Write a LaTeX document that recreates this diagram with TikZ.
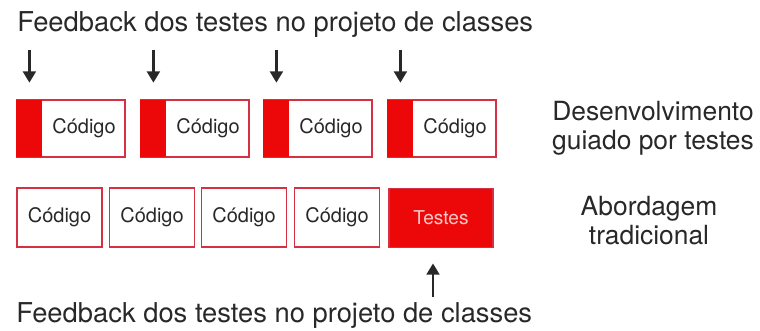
\documentclass[tikz,border=0pt]{standalone}
\usepackage{fontspec}
\setmainfont{TeX Gyre Heros}
\usepackage{tikz}
\usetikzlibrary{
  arrows.meta,
  positioning,
  calc
}
\definecolor{boxred}{RGB}{214,48,68}
\definecolor{fillred}{RGB}{236,8,8}
\definecolor{inkgray}{RGB}{40,40,40}
\definecolor{palepink}{RGB}{250,200,200}
\tikzset{>={Triangle[length=8.5pt,width=9.5pt]}}
\tikzset{
  biglabel/.style={font=\fontsize{20.5}{24}\selectfont, text=inkgray, inner sep=0pt},
  sidelabel/.style={text=inkgray, inner sep=0pt, align=center, anchor=north},
  codetext/.style={font=\fontsize{15}{18}\selectfont, text=inkgray, inner sep=0pt},
  tddbox/.style={draw=boxred, line width=1.3pt, minimum width=81pt, minimum height=42.75pt, inner sep=0pt},
  redstrip/.style={fill=fillred, minimum width=19.5pt, minimum height=42.75pt, inner sep=0pt},
  tradbox/.style={draw=boxred, line width=1.3pt, minimum width=63.75pt, minimum height=44.25pt,
    inner sep=0pt, font=\fontsize{15}{18}\selectfont, text=inkgray},
  testbox/.style={draw=boxred, fill=fillred, line width=1.3pt, minimum width=78pt, minimum height=44.25pt,
    inner sep=0pt, font=\fontsize{14.3}{17}\selectfont, text=palepink},
  fbarrow/.style={->, line width=2.2pt, draw=inkgray}
}

\begin{document}
\begin{tikzpicture}[x=0.75pt, y=-0.75pt]
  \useasboundingbox (0,0) rectangle (760,331);

  \node[biglabel, anchor=base west] (fbtop) at (17,31.5) {Feedback dos testes no projeto de classes};
  \node[biglabel, anchor=base west] (fbbottom) at (16,322) {Feedback dos testes no projeto de classes};

  % desenvolvimento guiado por testes
  \foreach \x [count=\i] in {71,195,318,442}{
    \node[tddbox] (tdd\i) at (\x,128.5) {};
    \node[redstrip, anchor=west] (strip\i) at (tdd\i.west) {};
    \node[codetext] (code\i) at ($(tdd\i.center)+(13,0)$) {Código};
    \coordinate (fb\i) at ($(strip\i.north)+(0,-50)$);
    \draw[fbarrow, shorten >=12.75pt] (fb\i) -- (strip\i.north);
  }
  \node[sidelabel, font=\fontsize{19.8}{21.5}\selectfont] (tddlabel) at (653,101)
    {Desenvolvimento\\guiado por testes};

  % abordagem tradicional
  \foreach \x [count=\i] in {59.5,152,244,337}
    \node[tradbox] (trad\i) at (\x,217.5) {Código};
  \node[testbox] (testes) at (441,218) {Testes};
  \coordinate (fbup) at ($(testes.south)+(-8,49)$);
  \draw[fbarrow, shorten >=11.25pt] (fbup) -- (testes.south -| fbup);
  \node[sidelabel, font=\fontsize{19.8}{21.5}\selectfont] (tradlabel) at (649,196)
    {Abordagem\\tradicional};
\end{tikzpicture}
\end{document}
